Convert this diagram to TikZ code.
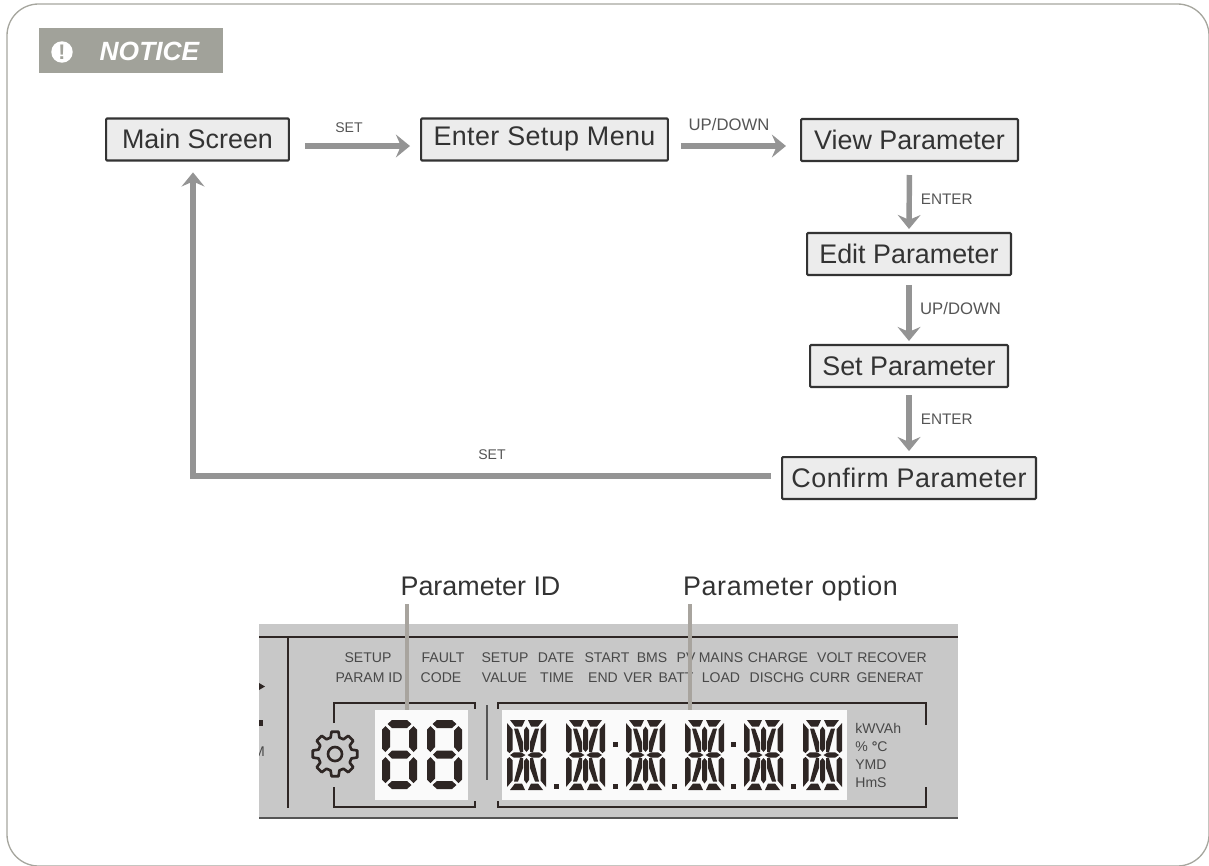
\documentclass[tikz,border=0pt]{standalone}
\usepackage{fontspec}
\setmainfont{Liberation Sans}
\usetikzlibrary{arrows.meta}
\definecolor{frameline}{HTML}{A6A69E}
\definecolor{noticegray}{HTML}{A1A29A}
\definecolor{boxfill}{HTML}{ECECEC}
\definecolor{boxink}{HTML}{333333}
\definecolor{flowgray}{HTML}{949494}
\definecolor{labelgray}{HTML}{555555}
\definecolor{panelgray}{HTML}{C8C8C8}
\definecolor{paneltextink}{HTML}{484848}
\definecolor{panelink}{HTML}{2E2624}
\definecolor{leadergray}{HTML}{A8A49E}
\newcommand{\bigtext}{\fontsize{15.3}{18}\selectfont}
\newcommand{\smalltext}{\fontsize{8}{10}\selectfont}
\newcommand{\midtext}{\fontsize{8.7}{10}\selectfont}
\newcommand{\widetext}{\fontsize{9.5}{11}\selectfont}
\tikzset{
  stage/.style={draw=boxink,line width=1.15pt,fill=boxfill,rounded corners=0.6pt,text=boxink,font=\bigtext,inner sep=0pt,minimum height=0.84cm,text height=10.5pt,text depth=0pt},
  flow/.style={draw=flowgray,line width=3.1pt,-{Stealth[length=8pt,width=13pt,inset=2.8pt]}},
  flowlabel/.style={text=labelgray,font=\smalltext,inner sep=0pt},
  paneltext/.style={text=paneltextink,font=\smalltext,inner sep=0pt},
  headtext/.style={inner sep=0pt,text=boxink,font=\bigtext,anchor=base},
  lcdwin/.style={fill=white!98!black,inner sep=0pt,minimum height=1.8cm},
  leader/.style={draw=leadergray,line width=2.8pt},
  bracket/.style={draw=panelink,line width=1.3pt},
  segdigit/.pic={
    \foreach \fy/\oy in {1/0,-1/69} {
      \fill[panelink,shift={(0,\oy)},yscale=\fy] (5.5,4) -- (10,0) -- (25,0) -- (29.5,4) -- (25,8) -- (10,8) -- cycle;
      \foreach \fx/\ox in {1/0,-1/35} {
        \fill[panelink,shift={(\ox,\oy)},xscale=\fx,yscale=\fy] (3.5,6) -- (8,10.5) -- (8,27) -- (3.5,32) -- (0,28.5) -- (0,9.5) -- cycle;
      }
    }
    \fill[panelink] (6,34.5) -- (10,30.5) -- (25,30.5) -- (29,34.5) -- (25,38.5) -- (10,38.5) -- cycle;
  },
  alnumdigit/.pic={
    \foreach \fy/\oy in {1/0,-1/70} {
      \fill[panelink,shift={(0,\oy)},yscale=\fy] (19.5,6.5) -- (22,10) -- (22,29) -- (19.5,32) -- (17,29) -- (17,10) -- cycle;
      \foreach \fx/\ox in {1/0,-1/39} {
        \fill[panelink,shift={(\ox,\oy)},xscale=\fx,yscale=\fy] (3,0) -- (18,0) -- (15,6.5) -- (8,6.5) -- cycle;
        \fill[panelink,shift={(\ox,\oy)},xscale=\fx,yscale=\fy] (0,3) -- (5.5,9.5) -- (5.5,30) -- (2.5,33) -- (0,31) -- cycle;
        \fill[panelink,shift={(\ox,\oy)},xscale=\fx,yscale=\fy] (7,8.5) -- (11,8.5) -- (16,22) -- (16,32) -- (13,32) -- cycle;
      }
    }
    \foreach \fx/\ox in {1/0,-1/39} {
      \fill[panelink,shift={(\ox,0)},xscale=\fx] (3,35) -- (7,32.3) -- (14,32.3) -- (18.5,35) -- (14,37.7) -- (7,37.7) -- cycle;
    }
  },
}
\begin{document}
\begin{tikzpicture}[x=0.02cm,y=-0.02cm,line cap=butt]
\useasboundingbox (0,0) rectangle (1209,865);
\draw[frameline,line width=0.75pt,rounded corners=18pt] (7,4) rectangle (1209,866);
\fill[noticegray] (39,28) rectangle (223,73);
\node[circle,fill=white,inner sep=0pt,minimum size=0.43cm,text=noticegray,font=\bfseries\fontsize{12}{12}\selectfont] (bang) at (62,52) {!};
\node[text=white,font=\bfseries\itshape\fontsize{15}{18}\selectfont,inner sep=0pt] (notice) at (149.5,51) {NOTICE};
\node[stage,minimum width=3.66cm] (mainscr) at (197.5,139.5) {Main Screen};
\node[stage,minimum width=4.94cm,text depth=3.5pt] (setupmenu) at (544.5,139.5) {\addfontfeature{LetterSpace=1.5}Enter Setup Menu};
\node[stage,minimum width=4.34cm] (viewpar) at (909.5,140) {View Parameter};
\node[stage,minimum width=4.08cm] (editpar) at (909,254) {Edit Parameter};
\node[stage,minimum width=3.96cm] (setpar) at (909,366) {Set Parameter};
\node[stage,minimum width=5.08cm] (confirmpar) at (909,478) {\addfontfeature{LetterSpace=2}Confirm Parameter};
\coordinate (backturn) at (193,476);
\draw[flow,shorten <=8.5pt,shorten >=5.7pt] (mainscr.east |- 0,146) -- (setupmenu.west |- 0,146);
\draw[flow,shorten <=6.8pt,shorten >=8pt] (setupmenu.east |- 0,146) -- (viewpar.west |- 0,146);
\draw[flow,shorten <=7.4pt,shorten >=1.7pt] (viewpar.south) -- (editpar.north);
\draw[flow,shorten <=5pt,shorten >=1.7pt] (editpar.south) -- (setpar.north);
\draw[flow,shorten <=4pt,shorten >=2.8pt] (setpar.south) -- (confirmpar.north);
\draw[flow,shorten <=5.7pt,shorten >=6.2pt] (confirmpar.west |- backturn) -- (backturn) -- (backturn |- mainscr.south);
\node[flowlabel] (setlabela) at (349,128) {SET};
\node[flowlabel,font=\widetext] (updownlabela) at (729,125) {UP/DOWN};
\node[flowlabel,font=\midtext] (enterlabela) at (946.7,199) {ENTER};
\node[flowlabel,font=\widetext] (updownlabelb) at (960.5,309) {UP/DOWN};
\node[flowlabel,font=\midtext] (enterlabelb) at (946.7,419) {ENTER};
\node[flowlabel] (setlabelb) at (492,455) {SET};
\begin{scope}
\clip (259,624) rectangle (958,819);
\fill[panelgray] (259,624) rectangle (958,818);
\draw[panelink,line width=1.4pt] (259,637) -- (958,637);
\draw[labelgray,line width=1.2pt] (259,818) -- (958,818);
\fill[panelink] (259,683) -- (265,686.5) -- (259,690) -- cycle;
\fill[panelink] (259,720) rectangle (263,726);
\node[paneltext] (cutm) at (259,752) {M};
\end{scope}
\draw[panelink,line width=1.4pt] (288,637) -- (288,808);
\foreach \tx/\ty/\tlab [count=\i] in {368/658/SETUP,369/678/PARAM ID,443/658/FAULT,441/678/CODE,505/658/SETUP,504.5/678/VALUE,556/658/DATE,557/678/TIME,607/658/START,603/678/END,652/658/BMS,638/678/VER,676/678/BATT,686/658/PV,721/658/MAINS,721/678/LOAD,778/658/CHARGE,777/678/DISCHG,835/658/VOLT,830/678/CURR,892/658/RECOVER,890/678/GENERAT}
  \node[paneltext] (ptext\i) at (\tx,\ty) {\tlab};
\foreach \ty/\tlab [count=\i] in {728/kWVAh,747/\% \textbf{°}C,765/YMD,783/HmS}
  \node[paneltext,anchor=west] (punit\i) at (855,\ty) {\tlab};
\draw[bracket] (334,723) -- (334,703) -- (475,703) -- (475,709);
\draw[bracket] (334,787) -- (334,807) -- (475,807) -- (475,801);
\draw[bracket] (498,709) -- (498,703) -- (926,703) -- (926,725);
\draw[bracket] (498,801) -- (498,807) -- (926,807) -- (926,787);
\draw[labelgray,line width=0.8pt] (487,705) -- (487,780);
\node[lcdwin,minimum width=1.86cm] (idwin) at (421.5,755) {};
\node[lcdwin,minimum width=6.9cm] (optwin) at (674.5,755) {};
\pic at (382,720) {segdigit};
\pic at (427,720) {segdigit};
\foreach \dx in {507,566,626,685,744,803}
  \pic at (\dx,720) {alnumdigit};
\foreach \dx in {556,615,674,733,793}
  \fill[panelink] (\dx-2.5,783.5) rectangle (\dx+2.5,789);
\foreach \dx in {615,733}
  \fill[panelink] (\dx-2.5,741.5) rectangle (\dx+2.5,747);
\begin{scope}[shift={(335,754)}]
\draw[panelink,line width=1.5pt,line join=round] (-15:17) \foreach \a in {0,45,...,315} { -- ({\a-15}:17) -- ({\a-9}:22.5) -- ({\a+9}:22.5) -- ({\a+15}:17) } -- cycle;
\draw[panelink,line width=1.5pt] (0,0) circle (7);
\end{scope}
\node[headtext] (idlabel) at (480.5,595) {Parameter ID};
\node[headtext] (optlabel) at (790.5,595) {\addfontfeature{LetterSpace=2.3}Parameter option};
\coordinate (idtop) at (407,604);
\coordinate (opttop) at (690,604);
\draw[leader] (idtop) -- (idtop |- idwin.north);
\draw[leader] (opttop) -- (opttop |- optwin.north);
\end{tikzpicture}
\end{document}
